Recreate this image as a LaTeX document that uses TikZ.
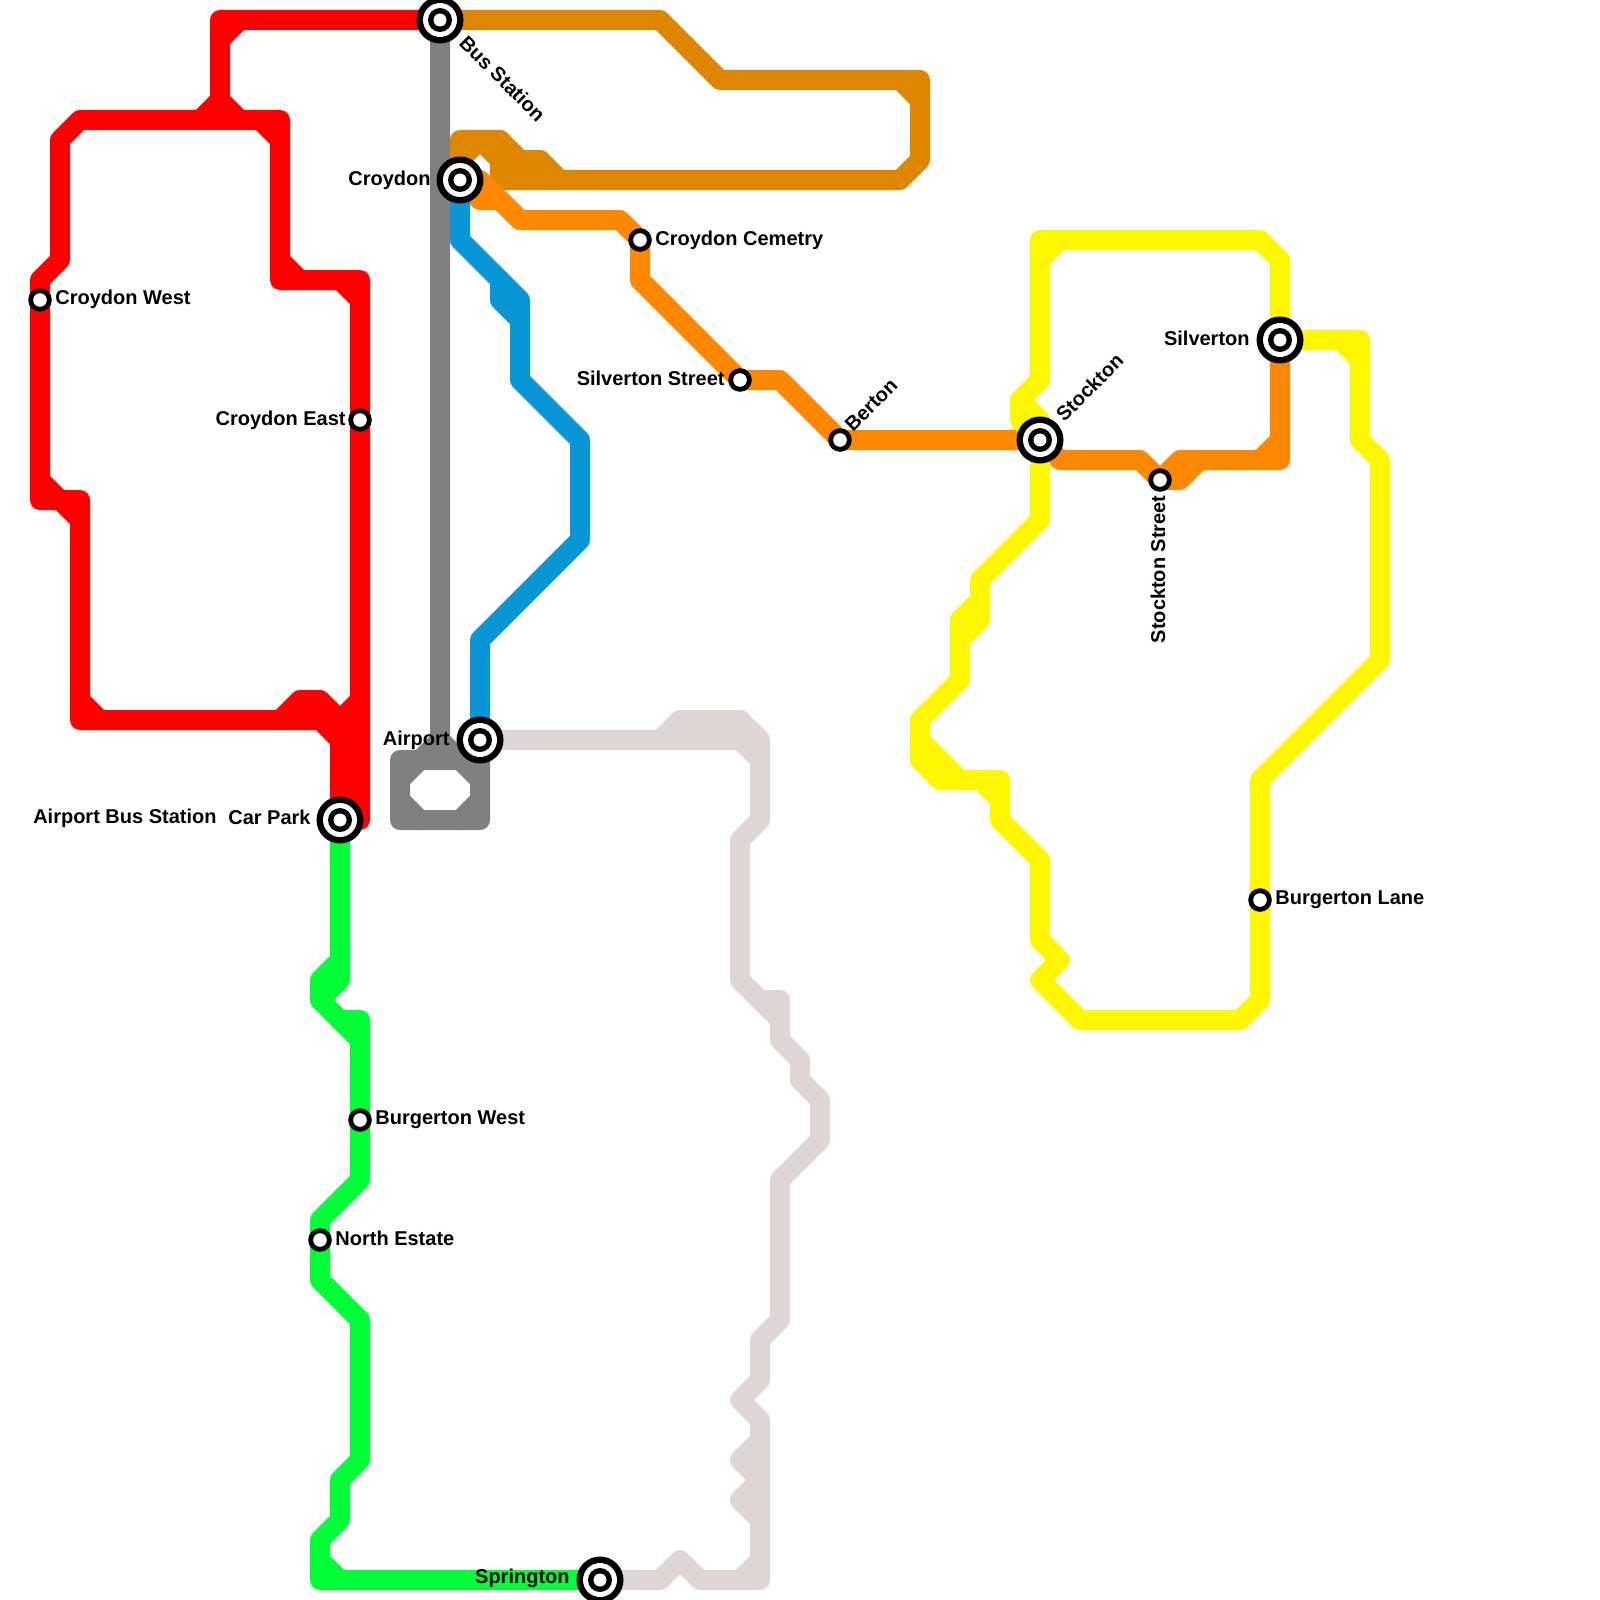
\documentclass[tikz,border=0pt]{standalone}
\usepackage{fontspec}
\setmainfont{Liberation Sans}
\definecolor{cred}{HTML}{FF0000}
\definecolor{cbrown}{HTML}{DF8600}
\definecolor{corange}{HTML}{FF8800}
\definecolor{cblue}{HTML}{0896D7}
\definecolor{cgray}{HTML}{808080}
\definecolor{cyellow}{HTML}{FFF700}
\definecolor{cgreen}{HTML}{00FF37}
\definecolor{clight}{HTML}{E0D5D5}
\tikzset{
  route/.style={line width=10pt,line join=round,line cap=round},
  dot/.style={circle,draw=none,inner sep=0pt,outer sep=0pt,minimum size=#1},
  lab/.style={font=\fontsize{10pt}{12pt}\selectfont\bfseries,inner sep=0pt,text=black},
}
\newcommand{\bigstn}[1]{%
  \node[dot=23.5pt,fill=black] (#1A) at (#1) {};
  \node[dot=17pt,fill=white] (#1B) at (#1) {};
  \node[dot=12pt,fill=black] (#1C) at (#1) {};
  \node[dot=6.5pt,fill=white] (#1D) at (#1) {};}
\newcommand{\smallstn}[1]{%
  \node[dot=11.8pt,fill=black] (#1A) at (#1) {};
  \node[dot=6.8pt,fill=white] (#1B) at (#1) {};}
\begin{document}
\begin{tikzpicture}[x=0.5pt,y=-0.5pt]
\useasboundingbox (0,0) rectangle (1600,1600);
\clip (0,0) rectangle (1600,1600);
\fill[white] (0,0) rectangle (1600,1600);
% station positions
\coordinate (bus) at (440,20);
\coordinate (croydon) at (460,180);
\coordinate (cwest) at (40,300);
\coordinate (ceast) at (360,420);
\coordinate (ccem) at (640,240);
\coordinate (silst) at (740,380);
\coordinate (berton) at (840,440);
\coordinate (stockton) at (1040,440);
\coordinate (silverton) at (1280,340);
\coordinate (stockst) at (1160,480);
\coordinate (burgl) at (1260,900);
\coordinate (airport) at (480,740);
\coordinate (carpark) at (340,820);
\coordinate (burgw) at (360,1120);
\coordinate (north) at (320,1240);
\coordinate (spring) at (600,1580);
% gray
\draw[route,cgray] (bus) -- (440,740) -- (420,760) -- (400,760) -- (400,820) -- (480,820) -- (480,760) -- (airport);
\draw[route,cgray] (420,760) -- (480,760) (400,780) -- (420,760) (400,800) -- (420,820) (460,820) -- (480,800) (460,760) -- (480,780) (440,740) -- (460,760);
% red
\draw[route,cred] (bus) -- (220,20) -- (220,100) -- (200,120) -- (80,120) -- (60,140) -- (60,260) -- (40,280) -- (40,500) -- (80,500) -- (80,720) -- (280,720) -- (300,700) -- (320,700) -- (340,720) -- (carpark);
\draw[route,cred] (220,100) -- (240,120) -- (280,120) -- (280,280) -- (360,280) -- (360,820) -- (carpark);
\draw[route,cred] (240,20) -- (220,40) (200,120) -- (240,120) (260,120) -- (280,140) (280,260) -- (300,280) (340,280) -- (360,300) (40,480) -- (60,500) (60,500) -- (80,520) (80,700) -- (100,720) (280,720) -- (320,720) -- (340,740) (360,700) -- (340,720);
\fill[cred] (330,720) rectangle (370,820);
% brown
\draw[route,cbrown] (bus) -- (660,20) -- (720,80) -- (920,80) -- (920,160) -- (900,180) -- (560,180) -- (540,160) -- (520,160) -- (500,140) -- (460,140) -- (croydon);
\draw[route,cbrown] (900,80) -- (920,100) (460,160) -- (480,140) (480,140) -- (500,160) (500,140) -- (500,180) -- (560,180) (500,160) -- (540,160) (520,160) -- (520,180);
% orange
\draw[route,corange] (croydon) -- (480,200) -- (500,200) -- (520,220) -- (620,220) -- (ccem) -- (640,280) -- (silst) -- (780,380) -- (berton) -- (stockton) -- (1060,460) -- (1140,460) -- (stockst) -- (1180,480) -- (1200,460) -- (1280,460) -- (silverton);
\draw[route,corange] (480,180) -- (520,220) (480,180) -- (480,200) (1160,480) -- (1180,460) -- (1200,460) (1260,460) -- (1280,440);
% blue
\draw[route,cblue] (croydon) -- (460,240) -- (520,300) -- (520,380) -- (580,440) -- (580,540) -- (480,640) -- (airport);
\draw[route,cblue] (500,280) -- (500,300) -- (520,320);
% yellow
\draw[route,cyellow] (stockton) -- (1020,420) -- (1020,400) -- (1040,380) -- (1040,240) -- (1260,240) -- (1280,260) -- (silverton) -- (1360,340) -- (1360,440) -- (1380,460) -- (1380,660) -- (1260,780) -- (burgl) -- (1260,1000) -- (1240,1020) -- (1080,1020) -- (1040,980) -- (1060,960) -- (1040,940) -- (1040,860) -- (1000,820) -- (1000,780) -- (940,780) -- (920,760) -- (920,720) -- (960,680) -- (960,620) -- (980,600) -- (980,580) -- (1040,520) -- (stockton);
\draw[route,cyellow] (1020,400) -- (1040,420) (1040,260) -- (1060,240) (1340,340) -- (1360,360) (980,780) -- (1000,800) (920,740) -- (960,780) (980,620) -- (960,640) (980,600) -- (980,620) (960,640) -- (960,620);
\fill[cyellow] (920,740) -- (960,780) -- (940,780) -- (920,760) -- cycle;
% green
\draw[route,cgreen] (carpark) -- (340,960) -- (320,980) -- (320,1000) -- (340,1020) -- (360,1020) -- (burgw) -- (360,1180) -- (320,1220) -- (320,1280) -- (360,1320) -- (360,1460) -- (340,1480) -- (340,1520) -- (320,1540) -- (320,1580) -- (spring);
\draw[route,cgreen] (340,960) -- (340,980) -- (320,1000) (340,1020) -- (360,1040) (320,1560) -- (340,1580);
% light
\draw[route,clight] (airport) -- (660,740) -- (680,720) -- (740,720) -- (760,740) -- (760,820) -- (740,840) -- (740,980) -- (780,1020) -- (780,1040) -- (800,1060) -- (800,1080) -- (820,1100) -- (820,1140) -- (780,1180) -- (780,1320) -- (760,1340) -- (760,1380) -- (740,1400) -- (760,1420) -- (760,1580) -- (700,1580) -- (680,1560) -- (660,1580) -- (spring);
\draw[route,clight] (660,740) -- (740,740) -- (760,760) (680,720) -- (680,740) (700,720) -- (700,740) (720,720) -- (720,740) (740,720) -- (740,740) (750,730) -- (760,740)
  (760,1000) -- (780,1000) -- (780,1020)
  (760,1440) -- (740,1460) -- (760,1480) -- (740,1500) -- (760,1520) (740,1580) -- (760,1560);
% stations
\bigstn{bus}\bigstn{croydon}\bigstn{stockton}\bigstn{silverton}\bigstn{airport}\bigstn{carpark}\bigstn{spring}
\smallstn{cwest}\smallstn{ceast}\smallstn{ccem}\smallstn{silst}\smallstn{berton}\smallstn{stockst}\smallstn{burgl}\smallstn{burgw}\smallstn{north}
% labels
\node[lab,anchor=west,rotate=-45] (lbus) at (463,39) {Bus Station};
\node[lab,anchor=east] (lcroy) at (431,180) {Croydon};
\node[lab,anchor=west] (lcw) at (55,299) {Croydon West};
\node[lab,anchor=east] (lce) at (346,420) {Croydon East};
\node[lab,anchor=west] (lcc) at (655,240) {Croydon Cemetry};
\node[lab,anchor=east] (lss) at (725,378) {Silverton Street};
\node[lab,anchor=west,rotate=45] (lber) at (848,428) {Berton};
\node[lab,anchor=west,rotate=45] (lsto) at (1059,418) {Stockton};
\node[lab,anchor=east] (lsil) at (1250,338) {Silverton};
\node[lab,anchor=east,rotate=90] (lsts) at (1158,495) {Stockton Street};
\node[lab,anchor=west] (lbl) at (1275,900) {Burgerton Lane};
\node[lab,anchor=east] (lair) at (450,740) {Airport};
\node[lab,anchor=east] (lcar) at (311,817) {Car Park};
\node[lab,anchor=east] (labs) at (217,818) {Airport Bus Station};
\node[lab,anchor=west] (lbw) at (375,1120) {Burgerton West};
\node[lab,anchor=west] (lne) at (335,1238) {North Estate};
\node[lab,anchor=east] (lspr) at (570,1578) {Springton};
\end{tikzpicture}
\end{document}
